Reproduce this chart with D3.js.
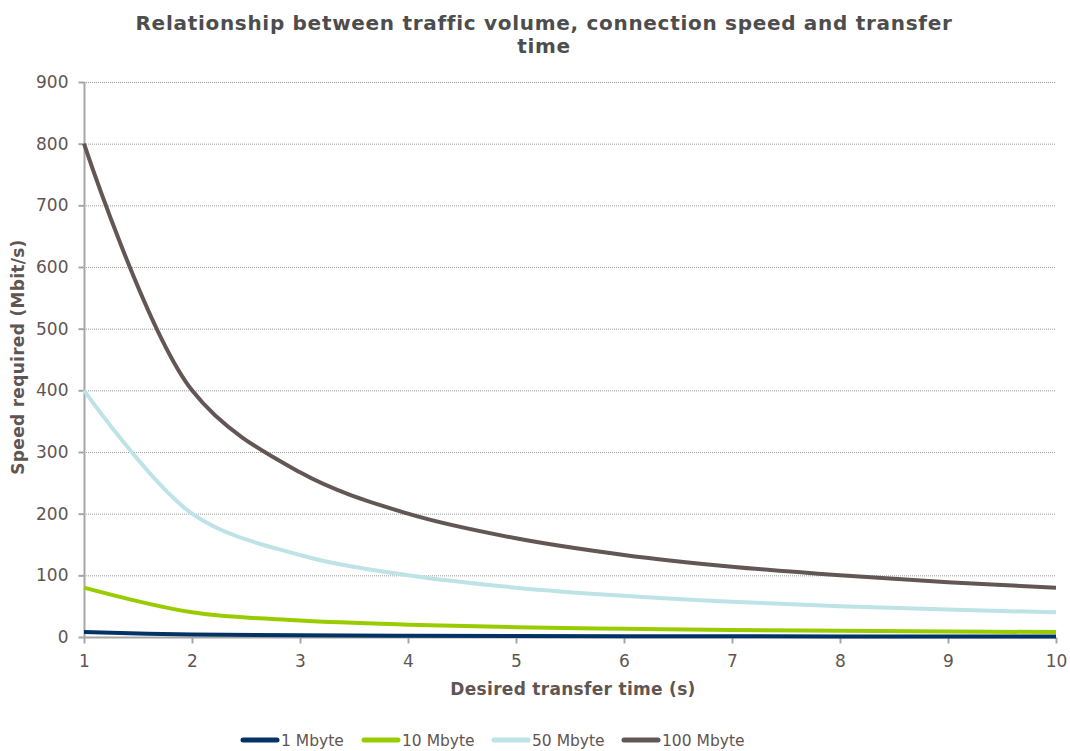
<!DOCTYPE html>
<html><head><meta charset="utf-8">
<script src="https://cdn.jsdelivr.net/npm/d3@7"></script>
<style>body{margin:0;background:#fff}svg{display:block}</style>
</head><body>
<svg id="c" width="1070" height="751"></svg>
<script>
const times = [1,2,3,4,5,6,7,8,9,10];
const seriesNames = ["1 Mbyte","10 Mbyte","50 Mbyte","100 Mbyte"];
const mb1   = [8,4,2.67,2,1.6,1.33,1.14,1,0.89,0.8];
const mb10  = [80,40,26.7,20,16,13.3,11.4,10,8.9,8];
const mb50  = [400,200,133,100,80,66.7,57.1,50,44.4,40];
const mb100 = [800,400,267,200,160,133,114,100,88.9,80];
const seriesColors = ["#033366","#99cc00","#bde3e6","#625755"];
const yTicks = [0,100,200,300,400,500,600,700,800,900];
const xTicks = [1,2,3,4,5,6,7,8,9,10];
const seriesValues = [mb1,mb10,mb50,mb100];

const svg = d3.select("#c");
const font = "DejaVu Sans, Verdana, sans-serif";
const textCol = "#5f5552";
const x = d3.scaleLinear().domain([1,10]).range([84,1056]);
const y = d3.scaleLinear().domain([0,900]).range([637,82]);

svg.append("text").attr("x",544).attr("y",30).attr("text-anchor","middle")
  .attr("font-family",font).attr("font-weight","bold").attr("font-size",20).attr("letter-spacing",0.7).attr("fill","#4d4d4d")
  .text("Relationship between traffic volume, connection speed and transfer");
svg.append("text").attr("x",544).attr("y",53).attr("text-anchor","middle")
  .attr("font-family",font).attr("font-weight","bold").attr("font-size",20).attr("letter-spacing",0.7).attr("fill","#4d4d4d")
  .text("time");

// gridlines
svg.append("g").selectAll("line").data(yTicks.filter(d=>d>0)).join("line")
  .attr("x1",84).attr("x2",1056).attr("y1",d=>y(d)+0.5).attr("y2",d=>y(d)+0.5)
  .attr("stroke","#999").attr("stroke-width",1).attr("stroke-dasharray","1,1");

// y axis
const ya = svg.append("g").attr("transform","translate(84.5,0)")
  .call(d3.axisLeft(y).tickValues(yTicks).tickSize(6).tickPadding(10).tickFormat(d3.format("d")));
ya.select(".domain").attr("stroke","#a6a6a6").attr("stroke-width",2).attr("d","M0,"+y(900)+"V"+y(0));
ya.selectAll(".tick line").attr("stroke","#a6a6a6").attr("stroke-width",2);
ya.selectAll("text").attr("font-family",font).attr("font-size",17).attr("fill",textCol);

// x axis
const xa = svg.append("g").attr("transform","translate(0,637.5)")
  .call(d3.axisBottom(x).tickValues(xTicks).tickSize(6).tickPadding(11).tickFormat(d3.format("d")));
xa.select(".domain").attr("stroke","#a6a6a6").attr("stroke-width",2).attr("d","M"+x(1)+",0H"+x(10));
xa.selectAll(".tick line").attr("stroke","#a6a6a6").attr("stroke-width",2);
xa.selectAll("text").attr("font-family",font).attr("font-size",17).attr("fill",textCol);

svg.append("text").attr("x",573).attr("y",695).attr("text-anchor","middle")
  .attr("font-family",font).attr("font-weight","bold").attr("font-size",17).attr("letter-spacing",0.3).attr("fill",textCol)
  .text("Desired transfer time (s)");
svg.append("text").attr("transform","translate(24,357) rotate(-90)").attr("text-anchor","middle")
  .attr("font-family",font).attr("font-weight","bold").attr("font-size",17).attr("letter-spacing",0.3).attr("fill",textCol)
  .text("Speed required (Mbit/s)");

const line = d3.line().x((d,i)=>x(times[i])).y(d=>y(d)).curve(d3.curveCatmullRom.alpha(0.5));
svg.append("g").selectAll("path").data(seriesValues).join("path")
  .attr("d",d=>line(d)).attr("fill","none").attr("stroke",(d,i)=>seriesColors[i])
  .attr("stroke-width",4).attr("stroke-linejoin","round");

// legend
const legX = [241,362,492,622];
const lg = svg.append("g").selectAll("g").data(seriesNames).join("g")
  .attr("transform",(d,i)=>`translate(${legX[i]},740)`);
lg.append("line").attr("x1",2).attr("x2",36).attr("y1",0).attr("y2",0)
  .attr("stroke",(d,i)=>seriesColors[i]).attr("stroke-width",5).attr("stroke-linecap","round");
lg.append("text").attr("x",40).attr("y",6).attr("font-family",font).attr("font-size",15.5)
  .attr("fill",textCol).text(d=>d);
</script>
</body></html>
